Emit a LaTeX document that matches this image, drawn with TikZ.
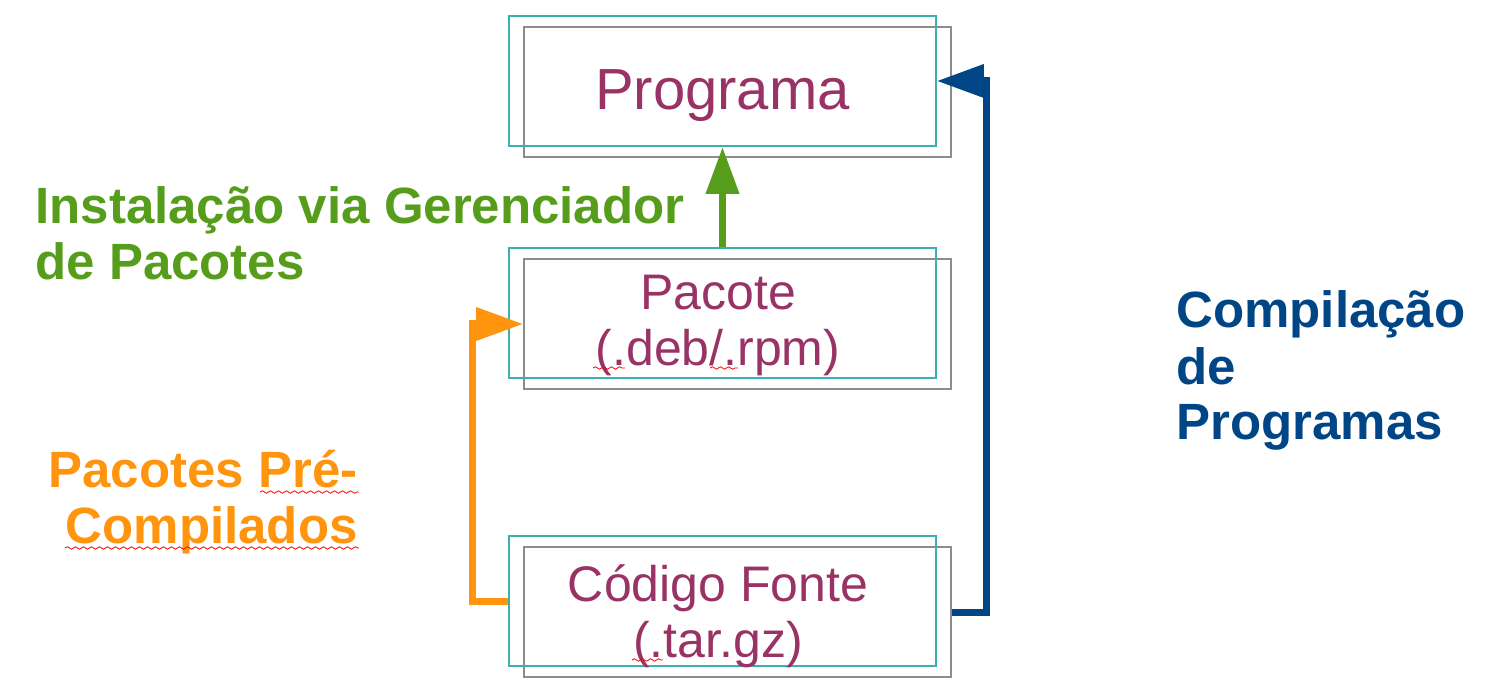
\documentclass[tikz,border=0pt]{standalone}
\usepackage{fontspec}
\setmainfont{Liberation Sans}
\usetikzlibrary{arrows.meta,decorations.pathmorphing}
\definecolor{boxtext}{RGB}{153,51,102}
\definecolor{boxline}{RGB}{60,175,175}
\definecolor{shadeline}{RGB}{140,140,140}
\definecolor{instgreen}{RGB}{87,157,28}
\definecolor{precorange}{RGB}{255,149,14}
\definecolor{compblue}{RGB}{0,69,134}

\begin{document}
\begin{tikzpicture}[x=0.5pt,y=-0.5pt]
\tikzstyle{every node}=[inner sep=0pt]
\tikzstyle{box}=[draw=boxline, line width=0.9pt, minimum width=213.5pt, minimum height=65pt]
\tikzstyle{shade}=[draw=shadeline, line width=0.9pt, minimum width=213.5pt, minimum height=65pt]
\tikzstyle{inbox}=[text=boxtext, align=center, anchor=base, font=\fontsize{25}{28}\selectfont]
\tikzstyle{side}=[anchor=base west, align=left, font=\bfseries\fontsize{25.5}{28}\selectfont]
\tikzstyle{flow}=[line width=3.5pt, -{Triangle[length=23.5pt,width=16pt]}]
\tikzstyle{squig}=[red, line width=0.4pt, decorate, decoration={snake, amplitude=0.6pt, segment length=4pt}]
\useasboundingbox (0,0) rectangle (1490,695);
% boxes
\draw (737.5,92) node (progs) [shade] {};
\draw (722.5,81) node (prog) [box] {};
\draw (737.5,324) node (pacs) [shade] {};
\draw (722.5,313) node (pac) [box] {};
\draw (737.5,612) node (cods) [shade] {};
\draw (722.5,601) node (cod) [box] {};
% box texts (base = last line)
\draw (722.5,110) node (progt) [inbox, font=\fontsize{29}{34}\selectfont] {Programa};
\draw (718,365) node (pact) [inbox] {Pacote\\(.deb/.rpm)};
\draw (718,657) node (codt) [inbox] {Código Fonte\\(.tar.gz)};
% arrows
\draw[flow, instgreen] (pac.north) -- (prog.south);
\draw[flow, compblue] (cods.east) -- ++(35,0) |- (prog.east);
\draw[flow, precorange] (cod.west) -- ++(-35.5,0) |- (pacs.west);
% labels
\draw (35,280) node (inst) [side, text=instgreen] {Instalação via Gerenciador\\de Pacotes};
\draw (358,543) node (prec) [side, anchor=base east, align=right, text=precorange] {Pacotes Pré-\\Compilados};
\draw (1176,440) node (comp) [side, text=compblue] {Compilação\\de\\Programas};
% spell check marks
\draw[squig] (593,368) -- (625,368);
\draw[squig] (710,368) -- (738,368);
\draw[squig] (632,660) -- (663,660);
\draw[squig] (260,492) -- (359,492);
\draw[squig] (65,548) -- (359,548);
\end{tikzpicture}
\end{document}
